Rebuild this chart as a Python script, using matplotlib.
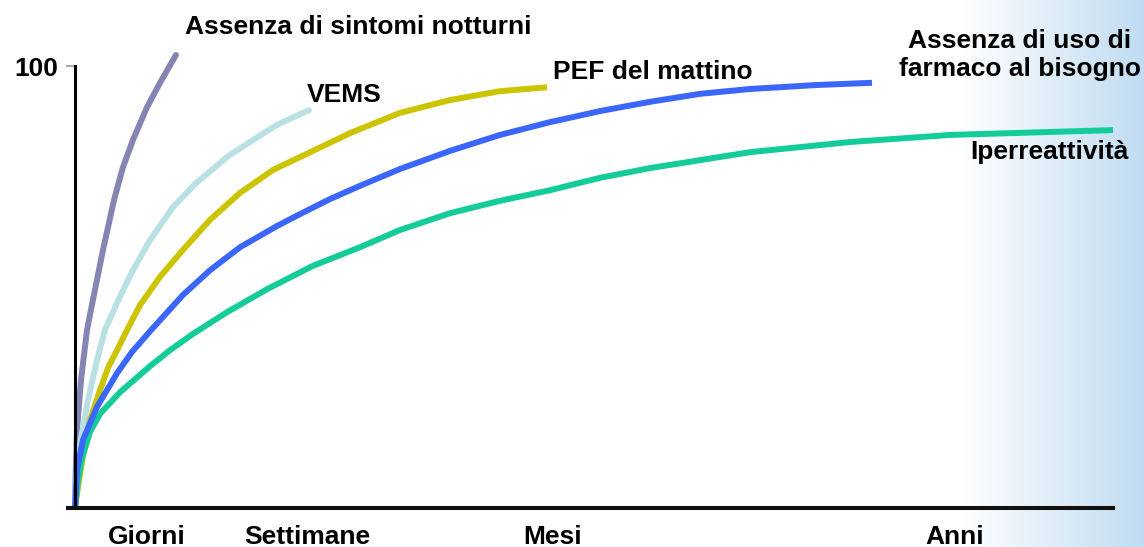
import numpy as np
import matplotlib
matplotlib.use('Agg')
import matplotlib.pyplot as plt

# Time axis runs 0..100 (arbitrary scale), response 0..100
x_sintomi = [0, 0.05, 0.19, 0.58, 1.16, 1.73, 2.70, 3.76, 4.62, 5.59, 6.94, 8.19, 9.73]
y_sintomi = [0, 6.3, 17.6, 29.0, 40.3, 47.1, 58.4, 69.7, 77.1, 83.3, 90.7, 96.2, 102.5]

x_vems = [0, 0.10, 0.48, 1.25, 2.12, 2.89, 4.05, 5.49, 7.23, 9.44, 11.66, 14.74, 16.86, 19.46, 22.54]
y_vems = [0, 6.3, 14.3, 24.4, 33.5, 40.3, 46.4, 53.4, 60.6, 68.1, 73.5, 79.6, 82.8, 86.7, 90.0]

x_pef = [0, 0.39, 0.87, 1.45, 2.41, 3.18, 4.05, 5.11, 6.26, 8.19, 10.40, 13.01, 15.90,
         19.08, 21.68, 26.49, 31.31, 36.13, 40.94, 45.47]
y_pef = [0, 6.3, 13.1, 19.9, 26.7, 31.7, 35.7, 40.7, 45.9, 52.3, 58.4, 65.2, 71.3,
         76.5, 79.4, 84.8, 89.4, 92.3, 94.3, 95.2]

x_farmaco = [0, 0.19, 0.77, 2.12, 4.05, 5.49, 7.23, 10.40, 13.01, 15.90, 19.46, 21.68, 24.57,
             27.46, 31.31, 36.13, 40.94, 45.76, 50.58, 55.39, 60.21, 65.03, 71.48, 76.78]
y_farmaco = [0, 8.6, 15.4, 22.9, 30.5, 35.3, 40.0, 48.2, 53.8, 59.0, 63.8, 66.5, 69.9,
             72.9, 76.7, 80.8, 84.4, 87.3, 89.8, 91.9, 93.7, 94.8, 95.7, 96.2]

x_iper = [0, 0.29, 0.67, 1.45, 2.41, 4.34, 7.23, 9.15, 11.37, 14.64, 18.50, 22.93, 27.46,
          31.31, 36.13, 40.94, 45.76, 50.58, 55.39, 65.03, 74.66, 84.30, 100.0]
y_iper = [0, 6.3, 11.3, 17.2, 21.3, 26.2, 32.1, 35.7, 39.4, 44.3, 49.5, 54.8, 59.0,
          62.9, 66.7, 69.5, 71.9, 74.7, 76.9, 80.5, 82.8, 84.4, 85.5]

periodi = ['Giorni', 'Settimane', 'Mesi', 'Anni']
periodi_x = [6.94, 22.35, 46.05, 84.78]

W, H = 1144, 547
FONT = 'Liberation Sans'
FS = 19

fig = plt.figure(figsize=(W / 100, H / 100), dpi=100)

# light blue fade on the right edge
bg = fig.add_axes([0, 0, 1, 1], zorder=0)
bg.set_axis_off()
t = np.clip((np.arange(W) - 960) / (W - 960), 0, 1)
end = np.array([192, 220, 242]) / 255
grad = (1 - t)[:, None] * np.ones(3) + t[:, None] * end
bg.imshow(grad[None, :, :], aspect='auto', extent=[0, 1, 0, 1])
bg.set_xlim(0, 1)
bg.set_ylim(0, 1)

ax = fig.add_axes([68 / W, 39 / H, 1045 / W, 508 / H], zorder=1)
ax.patch.set_visible(False)
ax.set_xlim(-7 / 10.38, 100)
ax.set_ylim(0, 508 / 4.42)

lw = 4.3
ax.plot(x_sintomi, y_sintomi, color='#8585b3', lw=lw, solid_capstyle='round', solid_joinstyle='round')
ax.plot(x_vems, y_vems, color='#b9e0e3', lw=lw, solid_capstyle='round', solid_joinstyle='round')
ax.plot(x_pef, y_pef, color='#ccc400', lw=lw, solid_capstyle='butt', solid_joinstyle='round')
ax.plot(x_iper, y_iper, color='#14cc9a', lw=lw, solid_capstyle='butt', solid_joinstyle='round')
ax.plot(x_farmaco, y_farmaco, color='#3a66fb', lw=lw, solid_capstyle='butt', solid_joinstyle='round')

# axes lines
for s in ['top', 'right']:
    ax.spines[s].set_visible(False)
ax.spines['left'].set_position(('data', 0))
ax.spines['left'].set_bounds(0, 100)
ax.spines['left'].set_linewidth(2.2)
ax.spines['left'].set_color('black')
ax.spines['bottom'].set_linewidth(2.9)
ax.spines['bottom'].set_color('#111111')

ax.set_xticks([])
ax.set_yticks([100])
ax.set_yticklabels(['100'], fontfamily=FONT, fontweight='bold', fontsize=FS)
ax.tick_params(axis='y', color='#aaaaaa', length=6.5, width=1.5, pad=5.5)

for lab, xp in zip(periodi, periodi_x):
    ax.text(xp, -6.6, lab, ha='center', va='center', fontfamily=FONT,
            fontweight='bold', fontsize=FS, clip_on=False)

def label(px, py, s, ha='left', **kw):
    fig.text(px / W, 1 - py / H, s, ha=ha, va='center', fontfamily=FONT,
             fontweight='bold', fontsize=FS, zorder=3, **kw)

label(185, 27, 'Assenza di sintomi notturni')
label(307, 95, 'VEMS')
label(553, 72, 'PEF del mattino')
label(1020, 55, 'Assenza di uso di\nfarmaco al bisogno', ha='center',
      multialignment='center', linespacing=1.22)
label(970, 152, 'Iperreattività')

fig.savefig('out.png', dpi=100)
